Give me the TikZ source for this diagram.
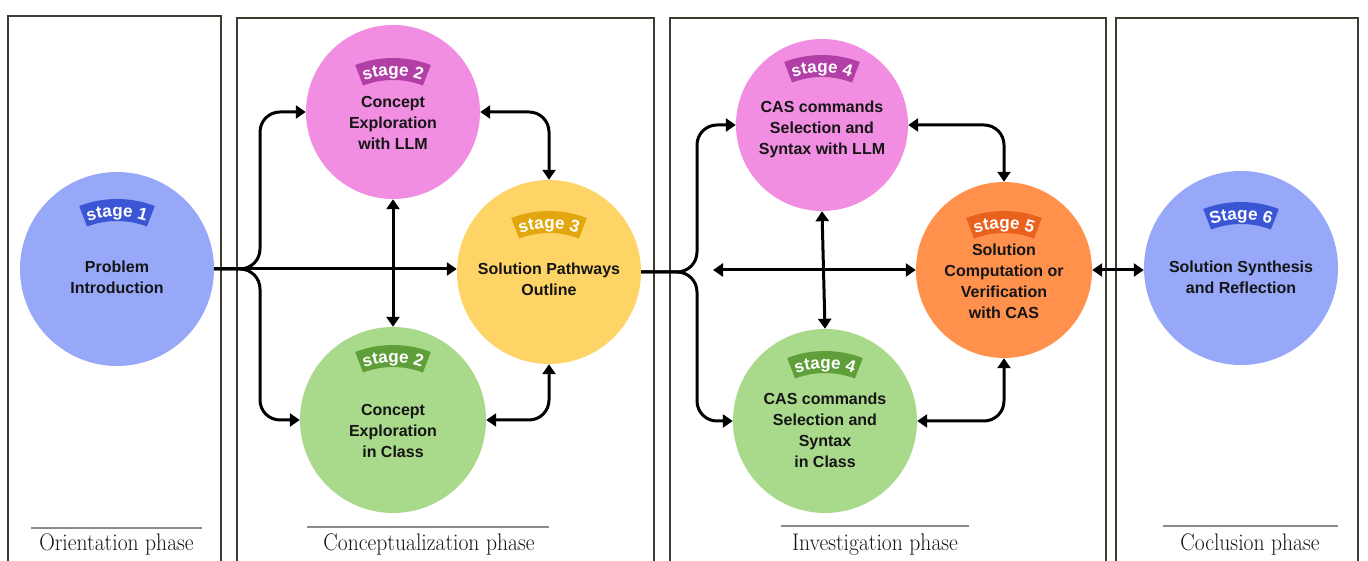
\documentclass[tikz,border=0pt]{standalone}
\usepackage{fontspec}
\newfontfamily\circfont{Liberation Sans}
\usepackage{xcolor}
\usetikzlibrary{arrows.meta,positioning,calc,decorations.text}

\definecolor{blueC}{HTML}{98A8F8}
\definecolor{blueB}{HTML}{3A56D4}
\definecolor{pinkC}{HTML}{F18EE1}
\definecolor{pinkB}{HTML}{B23FA6}
\definecolor{yellowC}{HTML}{FFD466}
\definecolor{yellowB}{HTML}{E2A70E}
\definecolor{greenC}{HTML}{A9D98A}
\definecolor{greenB}{HTML}{5E9F3A}
\definecolor{orangeC}{HTML}{FF914D}
\definecolor{orangeB}{HTML}{E8621E}
\definecolor{panelC}{HTML}{3B3D30}
\definecolor{ruleC}{HTML}{8A8A8A}
\definecolor{inkC}{HTML}{151515}

\tikzset{
  stage/.style={circle, inner sep=0pt, draw=none},
  stagetext/.style={align=center, text=inkC, font=\circfont\bfseries\fontsize{16}{21}\selectfont},
  panel/.style={draw=panelC, line width=2.5pt},
  oneway/.style={line width=3pt, rounded corners=20pt, -{Triangle[length=10pt,width=13pt]}},
  twoway/.style={line width=3pt, rounded corners=20pt, {Triangle[length=10pt,width=13pt]}-{Triangle[length=10pt,width=13pt]}},
  phaserule/.style={draw=ruleC, line width=1.5pt},
  phasetext/.style={anchor=base, text=inkC, xscale=0.9, font=\fontsize{24}{26}\selectfont}
}

% curved stage banner: node, offset, colour, text
\newcommand{\stagebadge}[4]{%
  \begin{scope}[shift={($(#1.center)+(0,#2)$)}]
    \begin{scope}[shift={(0,-94.5)}]
      \fill[#3] (69:105.5) arc[start angle=69, end angle=111, radius=105.5]
        -- (111:83.5) arc[start angle=111, end angle=69, radius=83.5] -- cycle;
      \path[decorate, decoration={text along path, text align=center,
        text={|\circfont\bfseries\fontsize{17}{17}\selectfont\color{white}|#4}}]
        (114:88) arc[start angle=114, end angle=66, radius=88];
    \end{scope}
  \end{scope}}

\begin{document}
\begin{tikzpicture}[x=1pt, y=1pt]
    \useasboundingbox (0,0) rectangle (1368,561);
    \fill[white] (0,0) rectangle (1368,561);
    \clip (0,0) rectangle (1368,561);

    % Phase panels
    \draw[panel] (8,-10) rectangle (221,545);
    \draw[panel] (237,-10) rectangle (654,543);
    \draw[panel] (670,-10) rectangle (1106,543);
    \draw[panel] (1116,-10) rectangle (1358,543);

    % Stages
    \node[stage, fill=blueC, minimum size=194pt] (s1) at (117,292) {};
    \node[stage, fill=pinkC, minimum size=174pt] (s2a) at (393,449) {};
    \node[stage, fill=yellowC, minimum size=184pt] (s3) at (549,289) {};
    \node[stage, fill=greenC, minimum size=186pt] (s2b) at (393,141) {};
    \node[stage, fill=pinkC, minimum size=172pt] (s4a) at (822,436) {};
    \node[stage, fill=orangeC, minimum size=176pt] (s5) at (1004,291) {};
    \node[stage, fill=greenC, minimum size=184pt] (s4b) at (825,140) {};
    \node[stage, fill=blueC, minimum size=194pt] (s6) at (1241,293) {};

    \stagebadge{s1}{59}{blueB}{stage 1}
    \stagebadge{s2a}{43}{pinkB}{stage 2}
    \stagebadge{s3}{50}{yellowB}{stage 3}
    \stagebadge{s2b}{64}{greenB}{stage 2}
    \stagebadge{s4a}{59}{pinkB}{stage 4}
    \stagebadge{s5}{48}{orangeB}{stage 5}
    \stagebadge{s4b}{59}{greenB}{stage 4}
    \stagebadge{s6}{55}{blueB}{Stage 6}

    \node[stagetext] (t1) at ([yshift=-8pt]s1.center) {Problem\\Introduction};
    \node[stagetext] (t2a) at ([yshift=-11pt]s2a.center) {Concept\\Exploration\\with LLM};
    \node[stagetext] (t3) at ([yshift=-7pt]s3.center) {Solution Pathways\\Outline};
    \node[stagetext] (t2b) at ([yshift=-11pt]s2b.center) {Concept\\Exploration\\in Class};
    \node[stagetext] (t4a) at ([yshift=-4pt]s4a.center) {CAS commands\\Selection and\\Syntax with LLM};
    \node[stagetext] (t5) at ([yshift=-11pt]s5.center) {Solution\\Computation or\\Verification\\with CAS};
    \node[stagetext] (t4b) at ([yshift=-9pt]s4b.center) {CAS commands\\Selection and\\Syntax\\in Class};
    \node[stagetext] (t6) at ([yshift=-9pt]s6.center) {Solution Synthesis\\and Reflection};

    % Conceptualization connectors
    \coordinate (f1) at (260,292);
    \draw[oneway] (s1.east) -- (s3.west |- s1.east);
    \draw[oneway] (s1.east) -- (f1) |- (s2a.west);
    \draw[oneway] (s1.east) -- (f1) |- (s2b.west);
    \draw[twoway] (s2a.south) -- (s2b.north);
    \draw[twoway] (s2a.east) -| (s3.north);
    \draw[twoway] (s2b.east) -| (s3.south);

    % Investigation connectors
    \coordinate (f2) at (697,289);
    \coordinate (m5) at (713,291);
    \draw[oneway] (s3.east) -- (f2) |- (s4a.west);
    \draw[oneway] (s3.east) -- (f2) |- (s4b.west);
    \draw[twoway] (m5) -- (s5.west);
    \draw[twoway] (s4a.south) -- (s4b.north);
    \draw[twoway] (s4a.east) -| (s5.north);
    \draw[twoway] (s4b.east) -| (s5.south);
    \draw[twoway] (s5.east) -- (s6.west |- s5.east);

    % Phase labels
    \draw[phaserule] (31,33) -- (202,33);
    \node[phasetext] (ph1) at (116.5,10) {Orientation phase};
    \draw[phaserule] (307,34) -- (549,34);
    \node[phasetext] (ph2) at (429,10) {Conceptualization phase};
    \draw[phaserule] (781,35) -- (969,35);
    \node[phasetext] (ph3) at (875,10) {Investigation phase};
    \draw[phaserule] (1163,35) -- (1338,35);
    \node[phasetext] (ph4) at (1250,10) {Coclusion phase};
\end{tikzpicture}
\end{document}
